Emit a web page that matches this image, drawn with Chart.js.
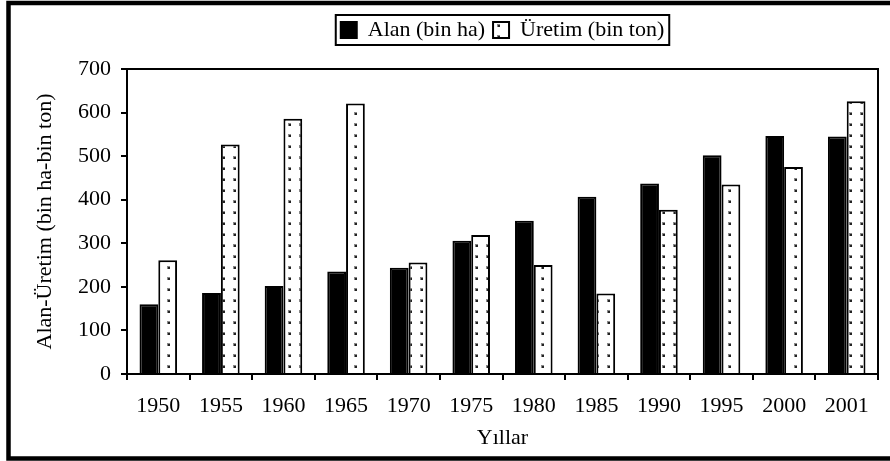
<!DOCTYPE html>
<html>
<head>
<meta charset="utf-8">
<script src="https://cdn.jsdelivr.net/npm/chart.js@4/dist/chart.umd.min.js"></script>
<style>
  html, body { margin: 0; padding: 0; background: #fff; overflow: hidden; }
  #wrap { width: 890px; height: 461px; position: relative; }
</style>
</head>
<body>
<div id="wrap"><canvas id="c" width="890" height="461"></canvas></div>
<script>
const categories = ["1950","1955","1960","1965","1970","1975","1980","1985","1990","1995","2000","2001"];
const alanValues = [160, 186, 202, 235, 244, 306, 352, 407, 437, 502, 546, 545];
const uretimValues = [261, 527, 586, 621, 256, 319, 250, 185, 377, 435, 475, 626];
const seriesNames = ["Alan (bin ha)", "Üretim (bin ton)"];
const yTitle = "Alan-Üretim (bin ha-bin ton)";
const xTitle = "Yıllar";

const FONT = "'Liberation Serif', 'Times New Roman', serif";
const FS = 22;

function makeDots() {
  const p = document.createElement('canvas');
  p.width = 11; p.height = 11;
  const g = p.getContext('2d');
  g.fillStyle = '#fff';
  g.fillRect(0, 0, 11, 11);
  g.fillStyle = '#888';
  g.fillRect(2, 2, 3, 3);
  g.fillStyle = '#222';
  g.fillRect(3, 3, 2, 2);
  return document.getElementById('c').getContext('2d').createPattern(p, 'repeat');
}
const dots = makeDots();

const legendSpace = {
  id: 'legendSpace',
  afterInit(chart) {
    const lg = chart.legend;
    if (!lg) return;
    const orig = lg.fit.bind(lg);
    lg.fit = function () { orig(); this.height += 18; };
  }
};

const framePlugin = {
  id: 'frame',
  afterDraw(chart) {
    const ctx = chart.ctx;
    const a = chart.chartArea;
    ctx.save();
    ctx.strokeStyle = '#000';
    ctx.lineWidth = 2;
    ctx.strokeRect(a.left, a.top, a.right - a.left, a.bottom - a.top);
    const lg = chart.legend;
    if (lg && lg.legendHitBoxes && lg.legendHitBoxes.length) {
      let l = Infinity, r = -Infinity;
      lg.legendHitBoxes.forEach(h => { l = Math.min(l, h.left); r = Math.max(r, h.left + h.width); });
      ctx.strokeRect(l - 5, 15, (r - l) + 10, 30);
    }
    // outer frame: left, top and bottom edges only (right edge is outside the picture)
    ctx.lineWidth = 4.5;
    ctx.beginPath();
    ctx.moveTo(900, 3); ctx.lineTo(8.5, 3); ctx.lineTo(8.5, 458.5); ctx.lineTo(900, 458.5);
    ctx.stroke();
    ctx.restore();
  }
};

new Chart(document.getElementById('c'), {
  type: 'bar',
  data: {
    labels: categories,
    datasets: [
      { label: seriesNames[0], data: alanValues, backgroundColor: '#000', borderColor: '#000', borderWidth: 2 },
      { label: seriesNames[1], data: uretimValues, backgroundColor: dots, borderColor: '#000', borderWidth: 2 }
    ]
  },
  options: {
    responsive: false,
    animation: false,
    devicePixelRatio: 1,
    layout: { padding: { left: 0, right: 12, top: 11, bottom: 0 } },
    datasets: { bar: { categoryPercentage: 0.6, barPercentage: 1.0 } },
    plugins: {
      tooltip: { enabled: false },
      legend: {
        position: 'top',
        fullSize: false,
        labels: {
          color: '#000',
          font: { family: FONT, size: FS },
          boxWidth: 16,
          boxHeight: 16,
          padding: 8
        }
      }
    },
    scales: {
      x: {
        grid: { display: true, drawOnChartArea: false, drawTicks: true, tickLength: 6, color: '#000', lineWidth: 2, offset: true },
        border: { display: true, color: '#000', width: 2 },
        ticks: { color: '#000', font: { family: FONT, size: FS }, padding: 13, maxRotation: 0, autoSkip: false },
        title: { display: true, text: xTitle, color: '#000', font: { family: FONT, size: FS }, padding: { top: 0, bottom: 10 } },
        afterFit(scale) { scale.height = 87; }
      },
      y: {
        min: 0, max: 700,
        ticks: { stepSize: 100, color: '#000', font: { family: FONT, size: FS }, padding: 10 },
        grid: { display: true, drawOnChartArea: false, drawTicks: true, tickLength: 6, color: '#000', lineWidth: 2 },
        border: { display: true, color: '#000', width: 2 },
        title: { display: true, text: yTitle, color: '#000', font: { family: FONT, size: FS }, padding: { top: 32, bottom: 0 } },
        afterFit(scale) { scale.width = 127; }
      }
    }
  },
  plugins: [legendSpace, framePlugin]
});
</script>
</body>
</html>
